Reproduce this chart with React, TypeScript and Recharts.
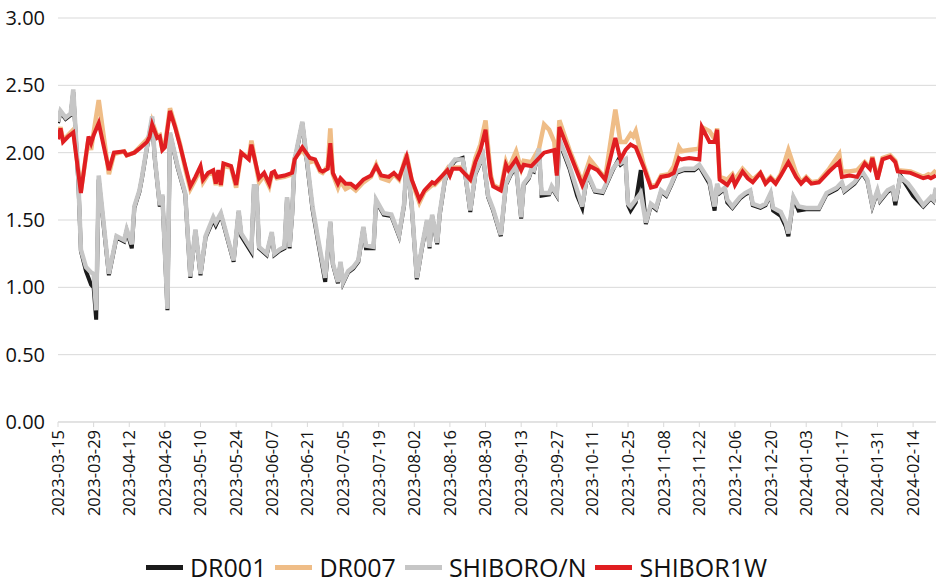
import React from 'react';
import {
  LineChart,
  Line,
  XAxis,
  YAxis,
  CartesianGrid,
  Legend,
} from 'recharts';

// overnight rates (DR001 / SHIBOR O/N) at their turning points
const onDates = [
  '2023-03-15', '2023-03-16', '2023-03-18', '2023-03-20', '2023-03-21', '2023-03-23', '2023-03-24', '2023-03-26',
  '2023-03-28', '2023-03-29', '2023-03-30', '2023-03-31', '2023-04-04', '2023-04-07', '2023-04-10', '2023-04-11',
  '2023-04-13', '2023-04-14', '2023-04-16', '2023-04-17', '2023-04-19', '2023-04-21', '2023-04-22', '2023-04-24',
  '2023-04-25', '2023-04-27', '2023-04-28', '2023-05-01', '2023-05-04', '2023-05-06', '2023-05-08', '2023-05-10',
  '2023-05-12', '2023-05-15', '2023-05-16', '2023-05-18', '2023-05-23', '2023-05-25', '2023-05-26', '2023-05-30',
  '2023-05-31', '2023-06-01', '2023-06-02', '2023-06-05', '2023-06-07', '2023-06-08', '2023-06-10', '2023-06-12',
  '2023-06-13', '2023-06-14', '2023-06-15', '2023-06-16', '2023-06-19', '2023-06-21', '2023-06-23', '2023-06-25',
  '2023-06-28', '2023-06-30', '2023-07-01', '2023-07-03', '2023-07-04', '2023-07-05', '2023-07-07', '2023-07-09',
  '2023-07-11', '2023-07-13', '2023-07-14', '2023-07-17', '2023-07-18', '2023-07-21', '2023-07-24', '2023-07-27',
  '2023-07-29', '2023-07-30', '2023-08-01', '2023-08-03', '2023-08-05', '2023-08-07', '2023-08-08', '2023-08-09',
  '2023-08-11', '2023-08-12', '2023-08-14', '2023-08-16', '2023-08-18', '2023-08-21', '2023-08-22', '2023-08-24',
  '2023-08-26', '2023-08-29', '2023-08-31', '2023-09-02', '2023-09-05', '2023-09-07', '2023-09-09', '2023-09-11',
  '2023-09-13', '2023-09-14', '2023-09-16', '2023-09-17', '2023-09-18', '2023-09-20', '2023-09-21', '2023-09-24',
  '2023-09-25', '2023-09-27', '2023-09-28', '2023-10-02', '2023-10-05', '2023-10-07', '2023-10-09', '2023-10-12',
  '2023-10-15', '2023-10-19', '2023-10-21', '2023-10-22', '2023-10-24', '2023-10-25', '2023-10-26', '2023-10-28',
  '2023-10-30', '2023-11-01', '2023-11-03', '2023-11-05', '2023-11-07', '2023-11-09', '2023-11-11', '2023-11-13',
  '2023-11-16', '2023-11-20', '2023-11-22', '2023-11-26', '2023-11-28', '2023-11-29', '2023-11-30', '2023-12-02',
  '2023-12-03', '2023-12-05', '2023-12-08', '2023-12-10', '2023-12-12', '2023-12-13', '2023-12-16', '2023-12-18',
  '2023-12-20', '2023-12-21', '2023-12-24', '2023-12-26', '2023-12-27', '2023-12-29', '2023-12-31', '2024-01-03',
  '2024-01-08', '2024-01-11', '2024-01-15', '2024-01-17', '2024-01-18', '2024-01-22', '2024-01-25', '2024-01-27',
  '2024-01-29', '2024-01-31', '2024-02-01', '2024-02-04', '2024-02-06', '2024-02-07', '2024-02-09', '2024-02-12',
  '2024-02-14', '2024-02-18', '2024-02-21', '2024-02-22', '2024-02-23',
];

const shiborON = [
  2.23, 2.31, 2.26, 2.29, 2.47, 1.80, 1.28, 1.15,
  1.11, 1.10, 0.83, 1.83, 1.10, 1.38, 1.35, 1.43,
  1.32, 1.60, 1.72, 1.82, 2.05, 2.27, 1.97, 1.61,
  1.69, 0.84, 2.15, 1.90, 1.70, 1.08, 1.43, 1.10,
  1.38, 1.52, 1.48, 1.55, 1.20, 1.57, 1.40, 1.28,
  1.75, 1.75, 1.30, 1.25, 1.41, 1.25, 1.28, 1.30,
  1.67, 1.30, 1.55, 1.95, 2.23, 1.92, 1.60, 1.38,
  1.07, 1.49, 1.18, 1.04, 1.19, 1.04, 1.12, 1.15,
  1.20, 1.45, 1.31, 1.30, 1.65, 1.55, 1.54, 1.39,
  1.62, 1.96, 1.61, 1.07, 1.30, 1.50, 1.30, 1.54,
  1.33, 1.55, 1.80, 1.90, 1.95, 1.95, 1.85, 1.57,
  1.85, 1.98, 1.68, 1.58, 1.39, 1.77, 1.85, 1.90,
  1.52, 1.77, 1.82, 1.88, 1.87, 2.03, 1.70, 1.70,
  1.75, 1.69, 2.10, 1.90, 1.72, 1.60, 1.85, 1.72,
  1.71, 1.88, 1.93, 1.92, 1.95, 1.62, 1.60, 1.65,
  1.70, 1.48, 1.62, 1.59, 1.72, 1.69, 1.77, 1.86,
  1.88, 1.88, 1.91, 1.79, 1.60, 1.77, 1.71, 1.74,
  1.65, 1.60, 1.67, 1.70, 1.72, 1.62, 1.60, 1.62,
  1.70, 1.59, 1.56, 1.48, 1.40, 1.67, 1.60, 1.59,
  1.59, 1.70, 1.74, 1.78, 1.72, 1.78, 1.86, 1.80,
  1.61, 1.72, 1.65, 1.72, 1.74, 1.64, 1.82, 1.77,
  1.72, 1.61, 1.67, 1.65, 1.74,
];

const dr001 = [
  2.22, 2.30, 2.25, 2.28, 2.45, 1.78, 1.27, 1.12,
  1.02, 1.00, 0.76, 1.80, 1.09, 1.37, 1.34, 1.42,
  1.29, 1.59, 1.71, 1.81, 2.04, 2.25, 1.96, 1.60,
  1.68, 0.83, 2.14, 1.89, 1.69, 1.07, 1.42, 1.09,
  1.37, 1.50, 1.46, 1.54, 1.19, 1.56, 1.38, 1.26,
  1.74, 1.74, 1.29, 1.24, 1.40, 1.24, 1.27, 1.29,
  1.66, 1.29, 1.54, 1.94, 2.22, 1.90, 1.58, 1.36,
  1.04, 1.48, 1.17, 1.03, 1.18, 1.03, 1.11, 1.14,
  1.19, 1.44, 1.29, 1.29, 1.64, 1.54, 1.53, 1.38,
  1.61, 1.95, 1.60, 1.06, 1.29, 1.49, 1.29, 1.53,
  1.32, 1.54, 1.79, 1.89, 1.94, 1.96, 1.84, 1.56,
  1.84, 1.97, 1.67, 1.57, 1.38, 1.76, 1.84, 1.89,
  1.51, 1.76, 1.81, 1.87, 1.86, 2.02, 1.68, 1.69,
  1.74, 1.68, 2.08, 1.88, 1.68, 1.59, 1.84, 1.71,
  1.70, 1.87, 1.94, 1.91, 1.94, 1.61, 1.57, 1.63,
  1.87, 1.47, 1.61, 1.58, 1.71, 1.68, 1.76, 1.85,
  1.87, 1.87, 1.90, 1.77, 1.57, 1.76, 1.70, 1.73,
  1.63, 1.59, 1.66, 1.69, 1.71, 1.61, 1.59, 1.61,
  1.69, 1.57, 1.53, 1.45, 1.38, 1.66, 1.57, 1.58,
  1.58, 1.69, 1.73, 1.77, 1.71, 1.77, 1.85, 1.79,
  1.60, 1.71, 1.64, 1.71, 1.73, 1.61, 1.83, 1.74,
  1.68, 1.60, 1.66, 1.64, 1.73,
];

// 7-day rates (DR007 / SHIBOR 1W)
const wkDates = [
  '2023-03-15', '2023-03-16', '2023-03-17', '2023-03-19', '2023-03-21', '2023-03-24', '2023-03-27', '2023-03-28',
  '2023-03-29', '2023-03-31', '2023-04-04', '2023-04-06', '2023-04-10', '2023-04-11', '2023-04-14', '2023-04-16',
  '2023-04-19', '2023-04-20', '2023-04-21', '2023-04-23', '2023-04-24', '2023-04-25', '2023-04-26', '2023-04-28',
  '2023-04-30', '2023-05-02', '2023-05-04', '2023-05-06', '2023-05-08', '2023-05-10', '2023-05-11', '2023-05-13',
  '2023-05-15', '2023-05-16', '2023-05-17', '2023-05-18', '2023-05-19', '2023-05-22', '2023-05-24', '2023-05-26',
  '2023-05-29', '2023-05-30', '2023-06-02', '2023-06-04', '2023-06-06', '2023-06-07', '2023-06-08', '2023-06-09',
  '2023-06-12', '2023-06-15', '2023-06-16', '2023-06-19', '2023-06-22', '2023-06-24', '2023-06-26', '2023-06-27',
  '2023-06-29', '2023-06-30', '2023-07-01', '2023-07-03', '2023-07-04', '2023-07-06', '2023-07-08', '2023-07-10',
  '2023-07-13', '2023-07-16', '2023-07-18', '2023-07-20', '2023-07-23', '2023-07-25', '2023-07-27', '2023-07-30',
  '2023-08-01', '2023-08-04', '2023-08-06', '2023-08-09', '2023-08-10', '2023-08-13', '2023-08-15', '2023-08-16',
  '2023-08-17', '2023-08-20', '2023-08-24', '2023-08-26', '2023-08-28', '2023-08-30', '2023-09-01', '2023-09-02',
  '2023-09-05', '2023-09-07', '2023-09-08', '2023-09-11', '2023-09-13', '2023-09-14', '2023-09-17', '2023-09-20',
  '2023-09-22', '2023-09-24', '2023-09-26', '2023-09-27', '2023-09-28', '2023-10-02', '2023-10-07', '2023-10-10',
  '2023-10-13', '2023-10-16', '2023-10-20', '2023-10-22', '2023-10-24', '2023-10-26', '2023-10-27', '2023-10-28',
  '2023-10-31', '2023-11-03', '2023-11-05', '2023-11-07', '2023-11-10', '2023-11-12', '2023-11-14', '2023-11-15',
  '2023-11-18', '2023-11-22', '2023-11-23', '2023-11-26', '2023-11-28', '2023-11-29', '2023-11-30', '2023-12-03',
  '2023-12-05', '2023-12-06', '2023-12-09', '2023-12-11', '2023-12-13', '2023-12-16', '2023-12-18', '2023-12-20',
  '2023-12-22', '2023-12-24', '2023-12-27', '2023-12-30', '2024-01-01', '2024-01-03', '2024-01-05', '2024-01-08',
  '2024-01-12', '2024-01-16', '2024-01-17', '2024-01-20', '2024-01-23', '2024-01-26', '2024-01-28', '2024-01-29',
  '2024-01-31', '2024-02-02', '2024-02-05', '2024-02-07', '2024-02-08', '2024-02-13', '2024-02-18', '2024-02-20',
  '2024-02-21', '2024-02-23',
];

const shibor1W = [
  2.10, 2.18, 2.08, 2.12, 2.15, 1.70, 2.12, 2.07,
  2.13, 2.22, 1.87, 2.00, 2.01, 1.98, 2.00, 2.03,
  2.08, 2.12, 2.21, 2.11, 2.12, 2.02, 2.04, 2.31,
  2.19, 2.05, 1.90, 1.75, 1.82, 1.90, 1.80, 1.85,
  1.87, 1.77, 1.87, 1.76, 1.92, 1.90, 1.76, 2.00,
  1.95, 2.06, 1.81, 1.85, 1.77, 1.85, 1.86, 1.82,
  1.83, 1.85, 1.95, 2.04, 1.96, 1.95, 1.87, 1.86,
  1.88, 2.07, 1.85, 1.77, 1.81, 1.77, 1.77, 1.74,
  1.80, 1.83, 1.90, 1.83, 1.82, 1.85, 1.81, 1.97,
  1.80, 1.65, 1.72, 1.78, 1.77, 1.83, 1.87, 1.83,
  1.88, 1.88, 1.80, 1.93, 2.02, 2.17, 1.82, 1.75,
  1.72, 1.91, 1.87, 1.95, 1.87, 1.91, 1.90, 1.96,
  2.00, 2.01, 2.02, 1.83, 2.19, 2.00, 1.76, 1.90,
  1.87, 1.80, 2.11, 1.95, 2.02, 2.06, 2.05, 2.04,
  1.90, 1.74, 1.75, 1.82, 1.83, 1.85, 1.96, 1.95,
  1.96, 1.95, 2.19, 2.08, 2.08, 2.17, 1.80, 1.76,
  1.82, 1.76, 1.86, 1.81, 1.78, 1.85, 1.77, 1.81,
  1.77, 1.83, 1.93, 1.82, 1.77, 1.81, 1.77, 1.78,
  1.86, 1.93, 1.82, 1.83, 1.82, 1.92, 1.88, 1.96,
  1.80, 1.95, 1.97, 1.93, 1.86, 1.85, 1.81, 1.82,
  1.81, 1.83,
];

const dr007 = [
  2.12, 2.19, 2.09, 2.13, 2.17, 1.72, 2.10, 2.02,
  2.15, 2.39, 1.84, 1.99, 2.01, 1.98, 2.00, 2.04,
  2.10, 2.13, 2.23, 2.12, 2.13, 2.03, 2.05, 2.33,
  2.20, 2.06, 1.88, 1.73, 1.80, 1.88, 1.78, 1.84,
  1.85, 1.76, 1.86, 1.75, 1.90, 1.89, 1.74, 2.00,
  1.96, 2.09, 1.78, 1.83, 1.75, 1.84, 1.84, 1.81,
  1.82, 1.84, 1.96, 2.02, 1.93, 1.94, 1.86, 1.85,
  1.90, 2.18, 1.84, 1.74, 1.79, 1.73, 1.75, 1.72,
  1.78, 1.82, 1.91, 1.81, 1.79, 1.84, 1.80, 1.99,
  1.79, 1.63, 1.71, 1.76, 1.76, 1.82, 1.88, 1.84,
  1.89, 1.89, 1.80, 1.96, 2.06, 2.24, 1.84, 1.76,
  1.73, 1.93, 1.88, 2.01, 1.88, 1.94, 1.93, 2.03,
  2.21, 2.17, 2.08, 1.85, 2.24, 2.02, 1.78, 1.95,
  1.88, 1.81, 2.32, 2.08, 2.08, 2.14, 2.12, 2.16,
  1.92, 1.75, 1.76, 1.83, 1.84, 1.90, 2.04, 2.01,
  2.02, 2.03, 2.19, 2.16, 2.10, 2.18, 1.82, 1.80,
  1.84, 1.80, 1.88, 1.84, 1.80, 1.85, 1.78, 1.82,
  1.78, 1.84, 2.02, 1.85, 1.78, 1.82, 1.78, 1.79,
  1.88, 1.99, 1.86, 1.86, 1.87, 1.93, 1.89, 1.97,
  1.81, 1.96, 1.98, 1.94, 1.87, 1.86, 1.82, 1.84,
  1.83, 1.87,
];

const yTicks = [0, 0.5, 1, 1.5, 2, 2.5, 3];
const xTickDates = [
  '2023-03-15', '2023-03-29', '2023-04-12', '2023-04-26', '2023-05-10', '2023-05-24', '2023-06-07',
  '2023-06-21', '2023-07-05', '2023-07-19', '2023-08-02', '2023-08-16', '2023-08-30', '2023-09-13',
  '2023-09-27', '2023-10-11', '2023-10-25', '2023-11-08', '2023-11-22', '2023-12-06', '2023-12-20',
  '2024-01-03', '2024-01-17', '2024-01-31', '2024-02-14',
];

const FONT = '"Open Sans", "Noto Sans", sans-serif';
const START = Date.UTC(2023, 2, 15);
const DAY = 86400000;

function toDay(s: string): number {
  const [y, m, d] = s.split('-').map(Number);
  return Math.round((Date.UTC(y, m - 1, d) - START) / DAY);
}

function fromDay(n: number): string {
  return new Date(START + n * DAY).toISOString().slice(0, 10);
}

const onData = onDates.map((d, i) => ({ day: toDay(d), dr001: dr001[i], shiborON: shiborON[i] }));
const wkData = wkDates.map((d, i) => ({ day: toDay(d), dr007: dr007[i], shibor1W: shibor1W[i] }));
const xTicks = xTickDates.map(toDay);
const lastDay = toDay(wkDates[wkDates.length - 1]);

const series = [
  { key: 'dr001', name: 'DR001', color: '#1b1b1b', data: onData, width: 4 },
  { key: 'dr007', name: 'DR007', color: '#efbd87', data: wkData, width: 4.5 },
  { key: 'shiborON', name: 'SHIBORO/N', color: '#c6c6c6', data: onData, width: 4.5 },
  { key: 'shibor1W', name: 'SHIBOR1W', color: '#e01e21', data: wkData, width: 4 },
];

const DateTick = (props: any) => {
  const { x, y, payload } = props;
  return (
    <text
      x={x}
      y={y}
      transform={`rotate(-90, ${x}, ${y})`}
      textAnchor="end"
      dy="0.36em"
      fontSize={16.5}
      fontFamily={FONT}
      fill="#111"
    >
      {fromDay(payload.value)}
    </text>
  );
};

const LegendContent = () => (
  <div
    style={{
      display: 'flex',
      justifyContent: 'center',
      alignItems: 'center',
      height: 40,
      paddingTop: 8,
      paddingRight: 14,
      boxSizing: 'border-box',
      fontFamily: FONT,
      fontSize: 25,
      lineHeight: '28px',
      color: '#111',
    }}
  >
    {series.map((s) => (
      <div key={s.key} style={{ display: 'flex', alignItems: 'center', marginRight: 9 }}>
        <span style={{ display: 'inline-block', width: 37, height: 5, background: s.color, marginRight: 7 }} />
        <span>{s.name}</span>
      </div>
    ))}
  </div>
);

export default function App() {
  return (
    <div style={{ position: 'absolute', left: 0, top: 0, width: 936, height: 583, background: '#fff' }}>
      <LineChart width={936} height={583} margin={{ top: 18, right: 0, left: 0, bottom: 0 }}>
        <CartesianGrid horizontal vertical={false} stroke="#d9d9d9" />
        <XAxis
          dataKey="day"
          type="number"
          domain={[0, lastDay]}
          ticks={xTicks}
          interval={0}
          height={121}
          tick={<DateTick />}
          tickSize={5}
          tickMargin={3}
          stroke="#d9d9d9"
          allowDataOverflow
        />
        <YAxis
          type="number"
          domain={[0, 3]}
          ticks={yTicks}
          width={58}
          axisLine={false}
          tickLine={false}
          tickMargin={7}
          tickFormatter={(v: number) => v.toFixed(2)}
          tick={{ fontSize: 20, fontFamily: FONT, fill: '#111' }}
        />
        <Legend
          verticalAlign="bottom"
          content={<LegendContent />}
          wrapperStyle={{ height: 40 }}
        />
        {series.map((s) => (
          <Line
            key={s.key}
            data={s.data}
            dataKey={s.key}
            name={s.name}
            type="linear"
            stroke={s.color}
            strokeWidth={s.width}
            dot={false}
            activeDot={false}
            isAnimationActive={false}
          />
        ))}
      </LineChart>
    </div>
  );
}
